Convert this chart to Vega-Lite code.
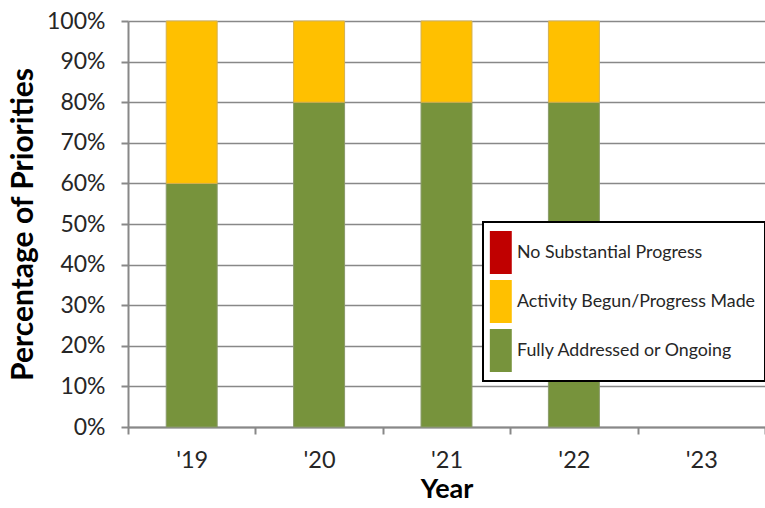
{
  "$schema": "https://vega.github.io/schema/vega-lite/v6.json",
  "width": 637,
  "height": 406,
  "autosize": {"type": "none"},
  "padding": {"left": 128, "top": 21, "right": 0, "bottom": 81},
  "background": "white",
  "config": {
    "view": {"stroke": null},
    "font": "Lato"
  },
  "data": {
    "values": [
      {"year": "'19", "status": "Fully Addressed or Ongoing", "share": 0.6},
      {"year": "'19", "status": "Activity Begun/Progress Made", "share": 0.4},
      {"year": "'20", "status": "Fully Addressed or Ongoing", "share": 0.8},
      {"year": "'20", "status": "Activity Begun/Progress Made", "share": 0.2},
      {"year": "'21", "status": "Fully Addressed or Ongoing", "share": 0.8},
      {"year": "'21", "status": "Activity Begun/Progress Made", "share": 0.2},
      {"year": "'22", "status": "Fully Addressed or Ongoing", "share": 0.8},
      {"year": "'22", "status": "Activity Begun/Progress Made", "share": 0.2}
    ]
  },
  "transform": [
    {"calculate": "indexof(['Fully Addressed or Ongoing','Activity Begun/Progress Made','No Substantial Progress'], datum.status)", "as": "stackOrder"}
  ],
  "mark": {"type": "bar", "strokeWidth": 1, "width": {"band": 0.4}},
  "encoding": {
    "x": {
      "field": "year",
      "type": "nominal",
      "scale": {"domain": ["'19", "'20", "'21", "'22", "'23"], "paddingInner": 0, "paddingOuter": 0},
      "axis": {
        "title": "Year",
        "titleFont": "Lato",
        "titleFontSize": 27,
        "titleFontWeight": "bold",
        "titleColor": "#000000",
        "titlePadding": 5,
        "labelAngle": 0,
        "labelFontSize": 23.5,
        "labelColor": "#262626",
        "labelPadding": 14,
        "tickBand": "extent",
        "tickSize": 7,
        "tickWidth": 2,
        "tickColor": "#888888",
        "domainColor": "#888888",
        "domainWidth": 2,
        "grid": false
      }
    },
    "y": {
      "field": "share",
      "type": "quantitative",
      "stack": "zero",
      "scale": {"domain": [0, 1], "nice": false},
      "axis": {
        "title": "Percentage of Priorities",
        "titleFont": "Lato",
        "titleFontSize": 30,
        "titleFontWeight": "bold",
        "titleColor": "#000000",
        "titlePadding": 8,
        "format": ".0%",
        "values": [0, 0.1, 0.2, 0.3, 0.4, 0.5, 0.6, 0.7, 0.8, 0.9, 1],
        "labelFontSize": 23,
        "labelColor": "#262626",
        "labelPadding": 16,
        "tickSize": 7,
        "tickWidth": 2,
        "tickColor": "#888888",
        "domainColor": "#888888",
        "domainWidth": 2,
        "grid": true,
        "gridColor": "#888888",
        "gridWidth": 1.5
      }
    },
    "color": {
      "field": "status",
      "type": "nominal",
      "scale": {
        "domain": ["No Substantial Progress", "Activity Begun/Progress Made", "Fully Addressed or Ongoing"],
        "range": ["#C00000", "#FFC000", "#77933C"]
      },
      "legend": {
        "title": null,
        "orient": "none",
        "legendX": 355,
        "legendY": 201,
        "padding": 9,
        "strokeColor": "#000000",
        "fillColor": "#FFFFFF",
        "symbolType": "M-1.1,-1H-0.08V1H-1.1Z",
        "symbolSize": 1849,
        "symbolStrokeWidth": 0,
        "rowPadding": 6,
        "labelFontSize": 17.8,
        "labelColor": "#262626",
        "labelOffset": -18,
        "labelLimit": 400,
        "encode": {
          "legend": {
            "update": {
              "strokeWidth": {"value": 2}
            }
          },
          "symbols": {
            "update": {
              "fill": {"signal": "datum.value === 'Activity Begun/Progress Made' ? '#FFC85C' : scale('color', datum.value)"},
              "opacity": {"value": 1}
            }
          }
        }
      }
    },
    "stroke": {
      "field": "status",
      "type": "nominal",
      "scale": {
        "domain": ["No Substantial Progress", "Activity Begun/Progress Made", "Fully Addressed or Ongoing"],
        "range": ["#A05050", "#D4B050", "#8A9A6A"]
      },
      "legend": null
    },
    "order": {"field": "stackOrder", "type": "quantitative"}
  }
}
